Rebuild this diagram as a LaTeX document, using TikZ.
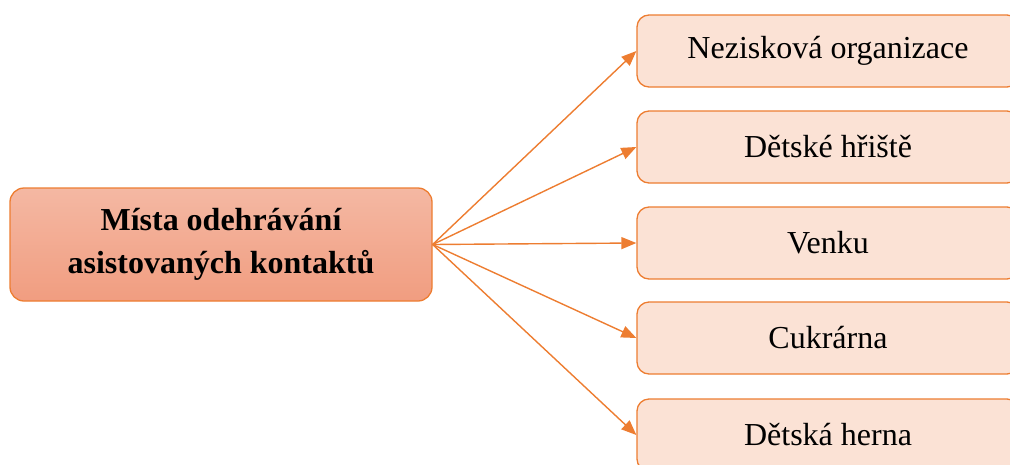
\documentclass[tikz,border=0pt]{standalone}
\usepackage{fontspec}
\setmainfont{Liberation Serif}
\usetikzlibrary{arrows.meta}
\definecolor{accent}{HTML}{ED7D31}
\definecolor{lightfill}{HTML}{FBE2D5}
\definecolor{gradtop}{HTML}{F4B8A3}
\definecolor{gradbot}{HTML}{F19D80}
\tikzset{
  mainbox/.style={draw=accent, line width=1.3pt, rounded corners=14pt,
    top color=gradtop, bottom color=gradbot, minimum width=422pt, minimum height=113pt,
    align=center, font=\fontsize{32}{43}\selectfont\bfseries, inner sep=0pt},
  leafbox/.style={draw=accent, line width=1.3pt, rounded corners=12pt, fill=lightfill,
    minimum width=382pt, minimum height=72pt, align=center,
    font=\fontsize{32}{38}\selectfont, inner sep=0pt},
  conn/.style={draw=accent, line width=1.4pt, -{Triangle[length=15pt,width=12pt]}}
}
\begin{document}
\begin{tikzpicture}[x=1pt,y=-1pt]
\useasboundingbox (0,0) rectangle (1010,464);
\clip (0,0) rectangle (1010,464);
\node[mainbox] (main) at (221,244.5) {Místa odehrávání\\asistovaných kontaktů};
\node[leafbox] (n1) at (828,51) {Nezisková organizace};
\node[leafbox] (n2) at (828,147) {Dětské hřiště};
\node[leafbox] (n3) at (828,243) {Venku};
\node[leafbox] (n4) at (828,338) {Cukrárna};
\node[leafbox] (n5) at (828,435) {Dětská herna};
\foreach \n in {n1,n2,n3,n4,n5}{
  \draw[conn] (main.east) -- (\n.west);
}
\end{tikzpicture}
\end{document}
